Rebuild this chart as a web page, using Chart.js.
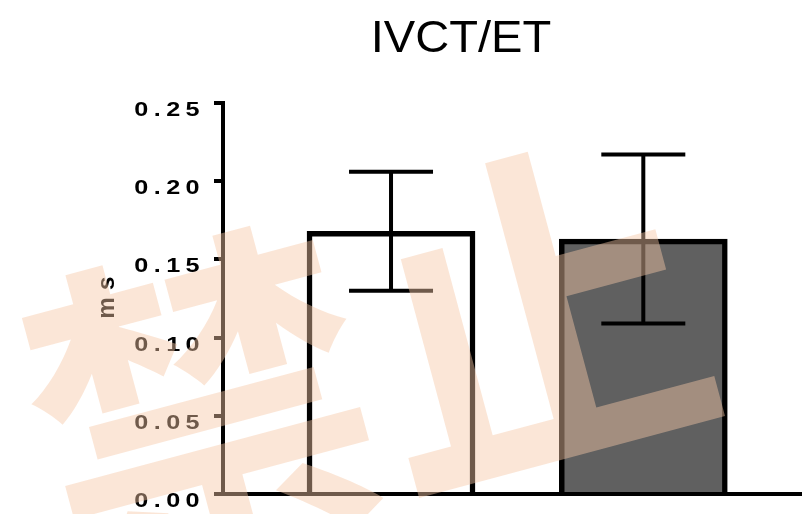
<!DOCTYPE html>
<html>
<head>
<meta charset="utf-8">
<script src="https://cdn.jsdelivr.net/npm/chart.js@4.4.0/dist/chart.umd.min.js"></script>
<style>
  html, body { margin: 0; padding: 0; background: #fff; }
  canvas { display: block; }
</style>
</head>
<body>
<canvas id="chart" width="802" height="514"></canvas>
<script>
// data
var chartTitle = 'IVCT/ET';
var axisTitle = 'ms';
var groups = ['Group 1', 'Group 2'];
var groupPositions = [1, 2];
var means = [0.168, 0.163];
var errors = [0.038, 0.054];
var tickValues = [0, 0.05, 0.10, 0.15, 0.20, 0.25];
var tickLabels = ['0.00', '0.05', '0.10', '0.15', '0.20', '0.25'];
var barFills = ['#ffffff', '#606060'];
var watermark = '禁止';

function drawStretched(ctx, text, x, y, font, scaleX, spacing, align) {
    ctx.save();
    ctx.translate(x, y);
    ctx.scale(scaleX, 1);
    ctx.font = font;
    ctx.letterSpacing = spacing + 'px';
    ctx.textAlign = align;
    ctx.textBaseline = 'alphabetic';
    ctx.fillStyle = '#000';
    ctx.fillText(text, 0, 0);
    ctx.restore();
}

// error bars on top of the bars
var errorBars = {
    id: 'errorBars',
    afterDatasetsDraw: function(chart) {
        var ctx = chart.ctx;
        var xs = chart.scales.x, ys = chart.scales.y;
        ctx.save();
        ctx.strokeStyle = '#000';
        ctx.lineWidth = 4;
        for (var i = 0; i < means.length; i++) {
            var cx = xs.getPixelForValue(groupPositions[i]);
            var top = ys.getPixelForValue(means[i] + errors[i]);
            var bot = ys.getPixelForValue(means[i] - errors[i]);
            ctx.beginPath();
            ctx.moveTo(cx, top); ctx.lineTo(cx, bot);
            ctx.moveTo(cx - 42, top); ctx.lineTo(cx + 42, top);
            ctx.moveTo(cx - 42, bot); ctx.lineTo(cx + 42, bot);
            ctx.stroke();
        }
        ctx.restore();
    }
};

// title, tick labels, axis title and the watermark
var texts = {
    id: 'texts',
    afterDraw: function(chart) {
        var ctx = chart.ctx;
        var ys = chart.scales.y;

        drawStretched(ctx, chartTitle, 461, 52, '44px "Liberation Sans", Arial, sans-serif', 1.07, 0, 'center');

        for (var i = 0; i < tickValues.length; i++) {
            var y = ys.getPixelForValue(tickValues[i]);
            drawStretched(ctx, tickLabels[i], 205, y + 13, 'bold 21px "Liberation Sans", Arial, sans-serif', 1.2, 4.5, 'right');
        }

        ctx.save();
        ctx.translate(114, 297.5);
        ctx.rotate(-Math.PI / 2);
        drawStretched(ctx, axisTitle, 3.5, 0, 'bold 23px "Liberation Sans", Arial, sans-serif', 1.05, 7, 'center');
        ctx.restore();

        ctx.save();
        ctx.translate(368, 362);
        ctx.rotate(-15 * Math.PI / 180);
        ctx.font = 'bold 345px "Noto Sans CJK SC", sans-serif';
        ctx.textAlign = 'center';
        ctx.textBaseline = 'middle';
        ctx.fillStyle = 'rgba(246, 200, 167, 0.45)';
        ctx.fillText(watermark, 0, 0);
        ctx.restore();
    }
};

new Chart(document.getElementById('chart'), {
    type: 'bar',
    data: {
        labels: groups,
        datasets: [{
            data: groupPositions.map(function(x, i) { return { x: x, y: means[i] }; }),
            backgroundColor: barFills,
            borderColor: '#000',
            borderWidth: 5.5,
            borderSkipped: 'bottom',
            barThickness: 168
        }]
    },
    options: {
        responsive: false,
        animation: false,
        layout: { padding: { top: 103, right: 0, bottom: 0, left: 0 } },
        plugins: { legend: { display: false }, tooltip: { enabled: false }, title: { display: false } },
        scales: {
            x: {
                type: 'linear',
                min: 0.334,
                max: 2.629,
                offset: false,
                z: 1,
                ticks: { display: false },
                grid: { offset: false, drawOnChartArea: false, drawTicks: false },
                border: { color: '#000', width: 4 },
                afterFit: function(s) { s.height = 20; }
            },
            y: {
                min: 0,
                max: 0.25,
                z: 1,
                afterBuildTicks: function(s) {
                    s.ticks = tickValues.map(function(v) { return { value: v }; });
                },
                ticks: { display: false },
                grid: { drawOnChartArea: false, drawTicks: true, tickLength: 9, color: '#000', lineWidth: 4 },
                border: { color: '#000', width: 4 },
                afterFit: function(s) { s.width = 223; }
            }
        }
    },
    plugins: [errorBars, texts]
});
</script>
</body>
</html>
